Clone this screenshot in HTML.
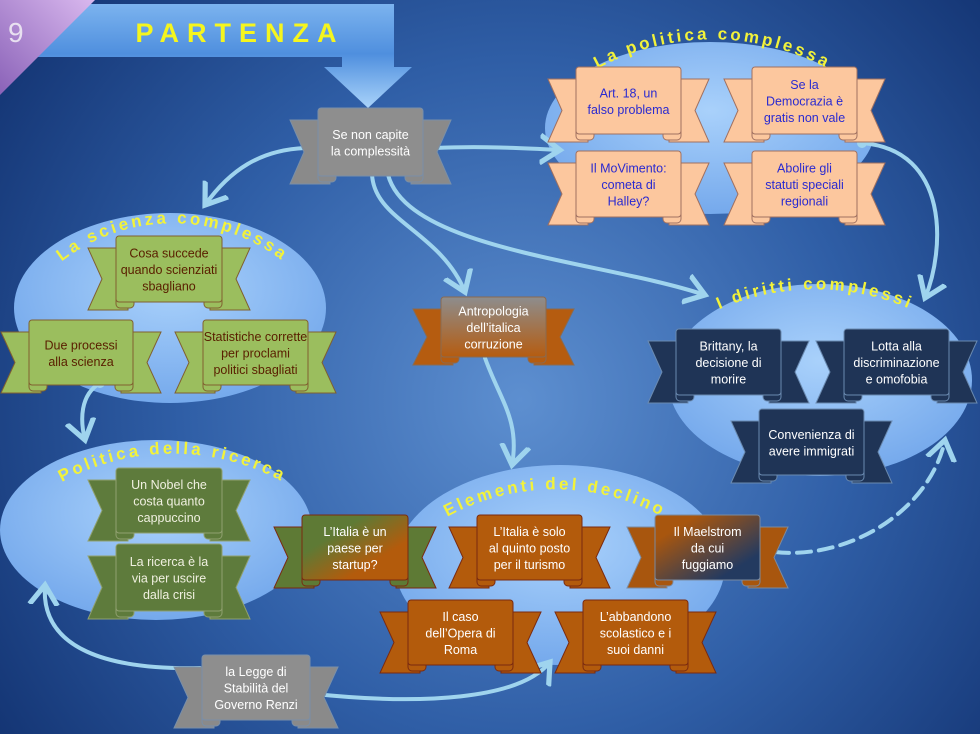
<!DOCTYPE html>
<html><head><meta charset="utf-8"><style>
html,body{margin:0;padding:0;width:980px;height:734px;overflow:hidden;background:#1c3d7c}
svg{display:block}
text{font-family:"Liberation Sans",sans-serif}
</style></head><body>
<svg id="s" width="980" height="734" viewBox="0 0 980 734" xmlns="http://www.w3.org/2000/svg">
<defs>
<radialGradient id="bg" cx="520" cy="400" r="620" gradientUnits="userSpaceOnUse">
<stop offset="0" stop-color="#5d8fd0"/><stop offset="0.55" stop-color="#2f5ea6"/><stop offset="1" stop-color="#143574"/></radialGradient>
<radialGradient id="ell" cx="0.5" cy="0.4" r="0.6"><stop offset="0" stop-color="#a9d1fb"/><stop offset="1" stop-color="#75a9ec"/></radialGradient>
<linearGradient id="ban" x1="0" y1="0" x2="0" y2="108" gradientUnits="userSpaceOnUse"><stop offset="0" stop-color="#7fb6f0"/><stop offset="0.5" stop-color="#4f8fde"/><stop offset="1" stop-color="#a9d3fa"/></linearGradient>
<linearGradient id="corner" x1="0" y1="1" x2="1" y2="0"><stop offset="0" stop-color="#8a62b8"/><stop offset="1" stop-color="#d9b8ee"/></linearGradient>
<linearGradient id="antro" x1="0" y1="0" x2="0" y2="1"><stop offset="0" stop-color="#8d8d8d"/><stop offset="1" stop-color="#b55c10"/></linearGradient>
<linearGradient id="start" x1="0" y1="0" x2="1" y2="1"><stop offset="0.3" stop-color="#5e7a35"/><stop offset="0.7" stop-color="#b35b0c"/></linearGradient>
<linearGradient id="mael" x1="0" y1="0" x2="1" y2="1"><stop offset="0.2" stop-color="#a8560e"/><stop offset="0.8" stop-color="#233a60"/></linearGradient>
<marker id="ah" markerWidth="8" markerHeight="8" refX="5" refY="4" orient="auto" markerUnits="strokeWidth"><path d="M0,0.5 L5,4 L0,7.5" fill="none" stroke="#9fd4ee" stroke-width="1.3"/></marker>
</defs>
<rect width="980" height="734" fill="url(#bg)"/>
<ellipse cx="710" cy="128" rx="165" ry="86" fill="url(#ell)"/>
<ellipse cx="170" cy="308" rx="156" ry="95" fill="url(#ell)"/>
<ellipse cx="820" cy="380" rx="152" ry="96" fill="url(#ell)"/>
<ellipse cx="156" cy="530" rx="156" ry="90" fill="url(#ell)"/>
<ellipse cx="560" cy="565" rx="165" ry="100" fill="url(#ell)"/>
<path id="p1" d="M585,76 A240,240 0 0 1 840,76" fill="none"/>
<path id="p2" d="M55,267 A180,180 0 0 1 290,267" fill="none"/>
<path id="p3" d="M705,316 A240,240 0 0 1 925,316" fill="none"/>
<path id="p4" d="M50,489 A230,230 0 0 1 295,489" fill="none"/>
<path id="p5" d="M435,524 A225,225 0 0 1 675,524" fill="none"/>
<g font-weight="bold" font-size="17" fill="#f2f23a" letter-spacing="3">
<text><textPath href="#p1" startOffset="50%" text-anchor="middle">La politica complessa</textPath></text>
<text><textPath href="#p2" startOffset="50%" text-anchor="middle">La scienza complessa</textPath></text>
<text><textPath href="#p3" startOffset="50%" text-anchor="middle">I diritti complessi</textPath></text>
<text><textPath href="#p4" startOffset="50%" text-anchor="middle">Politica della ricerca</textPath></text>
<text><textPath href="#p5" startOffset="50%" text-anchor="middle">Elementi del declino</textPath></text>
</g>
<path d="M38,4 L394,4 L394,67 L412,67 L368,108 L324,67 L342,67 L342,57 L38,57 Z" fill="url(#ban)"/>
<text x="240" y="42" text-anchor="middle" font-weight="bold" font-size="27" fill="#f5f51e" letter-spacing="8">PARTENZA</text>
<path d="M0,0 L95,0 L0,95 Z" fill="url(#corner)"/>
<text x="8" y="42" font-size="28" fill="#e8e0f0">9</text>
<g id="conn" fill="none" stroke="#9fd4ee" stroke-width="4" stroke-linecap="round"></g>
<g id="rib"></g>
</svg>
<script>
var NS="http://www.w3.org/2000/svg";
function el(t,a,p){var e=document.createElementNS(NS,t);for(var k in a)e.setAttribute(k,a[k]);p.appendChild(e);return e;}
var conn=document.getElementById('conn');
["M305,148 C260,150 230,170 205,205",
 "M435,148 C480,146 520,148 560,150",
 "M372,170 C370,220 440,230 465,292",
 "M387,170 C400,250 600,260 705,295",
 "M862,143 C950,150 945,250 925,298",
 "M485,358 C500,400 520,420 512,465",
 "M100,383 C80,395 80,420 85,440",
 "M200,668 C110,670 40,650 45,585",
 "M315,694 C420,705 520,700 550,662"
].forEach(function(c){el('path',{d:c,'marker-end':'url(#ah)'},conn);});
el('path',{d:"M775,552 C850,560 930,510 945,440",'stroke-dasharray':"14,8",'marker-end':'url(#ah)'},conn);
el('circle',{cx:862,cy:143,r:5,fill:'#9fd4ee',stroke:'none'},conn);
el('circle',{cx:100,cy:383,r:5,fill:'#9fd4ee',stroke:'none'},conn);
var rib=document.getElementById('rib');
function R(x,y,w,h,fill,tail,stroke,tc,lines){
 var g=el('g',{},rib);
 var t=28,ty=y+12,by=y+h+8,n=14;
 el('path',{d:"M"+(x+12)+","+ty+" L"+(x-t)+","+ty+" L"+(x-t+n)+","+((ty+by)/2)+" L"+(x-t)+","+by+" L"+(x+12)+","+by+"Z",fill:tail,stroke:stroke,'stroke-width':1},g);
 el('path',{d:"M"+(x+w-12)+","+ty+" L"+(x+w+t)+","+ty+" L"+(x+w+t-n)+","+((ty+by)/2)+" L"+(x+w+t)+","+by+" L"+(x+w-12)+","+by+"Z",fill:tail,stroke:stroke,'stroke-width':1},g);
 el('rect',{x:x,y:y+h-8,width:18,height:14,rx:4,fill:tail,stroke:stroke,'stroke-width':1},g);
 el('rect',{x:x+w-18,y:y+h-8,width:18,height:14,rx:4,fill:tail,stroke:stroke,'stroke-width':1},g);
 el('rect',{x:x,y:y,width:w,height:h,rx:3,fill:fill,stroke:stroke,'stroke-width':1},g);
 var lh=16.5,sy=y+h/2-(lines.length-1)*lh/2+5;
 lines.forEach(function(l,i){var tx=el('text',{x:x+w/2,y:sy+i*lh,'text-anchor':'middle','font-size':12.5,fill:tc},g);tx.textContent=l;});
}
var PE="#fcc79e",PS="#a07060",PT="#2a2ad0";
R(318,108,105,68,"#8e8e8e","#8a8a8a","#7a8fa8","#fff",["Se non capite","la complessità"]);
R(576,67,105,67,PE,PE,PS,PT,["Art. 18, un","falso problema"]);
R(752,67,105,67,PE,PE,PS,PT,["Se la","Democrazia è","gratis non vale"]);
R(576,151,105,66,PE,PE,PS,PT,["Il MoVimento:","cometa di","Halley?"]);
R(752,151,105,66,PE,PE,PS,PT,["Abolire gli","statuti speciali","regionali"]);
var G="#9bbe5e",GS="#806030",GT="#5a2000";
R(116,236,106,66,G,G,GS,GT,["Cosa succede","quando scienziati","sbagliano"]);
R(29,320,104,65,G,G,GS,GT,["Due processi","alla scienza"]);
R(203,320,105,65,G,G,GS,GT,["Statistiche corrette","per proclami","politici sbagliati"]);
R(441,297,105,60,"url(#antro)","#b55c10","#8a6a50","#fff",["Antropologia","dell’italica","corruzione"]);
var N="#1f3456",NS2="#6a8ab0";
R(676,329,105,66,N,N,NS2,"#fff",["Brittany, la","decisione di","morire"]);
R(844,329,105,66,N,N,NS2,"#fff",["Lotta alla","discriminazione","e omofobia"]);
R(759,409,105,66,N,N,NS2,"#fff",["Convenienza di","avere immigrati"]);
var O="#5e7b3c",OS="#90a070";
R(116,468,106,65,O,O,OS,"#f0f0e0",["Un Nobel che","costa quanto","cappuccino"]);
R(116,544,106,67,O,O,OS,"#f0f0e0",["La ricerca è la","via per uscire","dalla crisi"]);
var B="#b35b0c",BS="#7a2a10";
R(302,515,106,65,"url(#start)","#5e7a35",BS,"#fff",["L’Italia è un","paese per","startup?"]);
R(477,515,105,65,B,B,BS,"#fff",["L’Italia è solo","al quinto posto","per il turismo"]);
R(655,515,105,65,"url(#mael)","#a8560e","#7a8aa0","#fff",["Il Maelstrom","da cui","fuggiamo"]);
R(408,600,105,65,B,B,BS,"#fff",["Il caso","dell’Opera di","Roma"]);
R(583,600,105,65,B,B,BS,"#fff",["L’abbandono","scolastico e i","suoi danni"]);
R(202,655,108,65,"#8e8e8e","#8a8a8a","#7a8fa8","#fff",["la Legge di","Stabilità del","Governo Renzi"]);
</script>
</body></html>
